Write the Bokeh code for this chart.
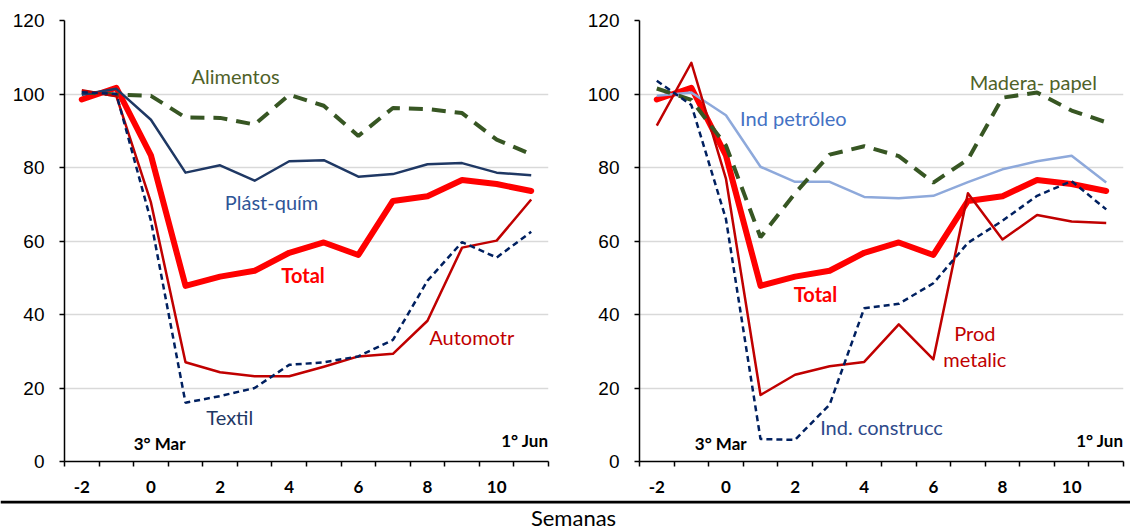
from bokeh.plotting import figure
from bokeh.models import Range1d, FixedTicker, Label, Span
from bokeh.layouts import row, column
from bokeh.embed import file_html
from bokeh.resources import INLINE

# ---------------- data ----------------
weeks = [-2, -1, 0, 1, 2, 3, 4, 5, 6, 7, 8, 9, 10, 11]
x_tick_values = [-2, 0, 2, 4, 6, 8, 10]
x_tick_labels = ["-2", "0", "2", "4", "6", "8", "10"]
y_tick_values = [0, 20, 40, 60, 80, 100, 120]

total = [98.5, 101.7, 83.3, 47.8, 50.3, 51.9, 56.8, 59.6, 56.2, 70.9, 72.2, 76.6, 75.5, 73.6]

# left panel
alimentos = [100.5, 99.8, 99.5, 93.6, 93.5, 91.7, 99.8, 96.8, 88.6, 96.2, 95.9, 94.8, 87.6, 83.6]
plast_quim = [99.8, 101.4, 93.0, 78.6, 80.6, 76.4, 81.7, 82.0, 77.5, 78.2, 80.9, 81.2, 78.6, 77.9]
automotr = [101.0, 99.4, 70.5, 27.0, 24.3, 23.2, 23.2, 25.8, 28.6, 29.3, 38.3, 58.2, 60.1, 71.3]
textil = [100.5, 100.0, 65.5, 16.0, 17.8, 20.0, 26.3, 27.0, 28.6, 33.1, 49.2, 59.7, 55.5, 62.5]

# right panel
petroleo = [99.5, 100.4, 94.2, 80.2, 76.1, 76.1, 72.0, 71.6, 72.3, 76.0, 79.5, 81.7, 83.2, 75.9]
madera = [101.5, 98.4, 86.0, 61.0, 73.0, 83.5, 85.8, 83.1, 75.9, 82.2, 99.0, 100.4, 95.5, 92.3]
prod_metalic = [91.4, 108.5, 77.0, 18.1, 23.6, 25.9, 27.1, 37.3, 27.8, 73.0, 60.4, 67.1, 65.3, 64.9]
construcc = [103.6, 97.0, 66.0, 6.1, 5.9, 15.5, 41.7, 42.9, 48.5, 59.5, 65.5, 72.3, 76.3, 68.6]

minor_ticks = [w - 0.5 for w in weeks] + [weeks[-1] + 0.5]

RED = "#FF0000"
DARKRED = "#C00000"
NAVY = "#002060"
NAVY2 = "#1F3864"
LIGHTBLUE = "#8EA9DB"
GREEN = "#375623"

FONT = "Lato"


def make_panel(width, height, bl, br, bt, bb, mar_x):
    p = figure(width=width, height=height, output_backend="svg", toolbar_location=None,
               x_range=Range1d(-2.5, 11.5), y_range=Range1d(0, 120),
               min_border_left=bl, min_border_right=br, min_border_top=bt, min_border_bottom=bb)
    p.outline_line_color = None
    p.background_fill_color = "white"
    p.border_fill_color = "white"
    p.xgrid.visible = False
    p.ygrid.grid_line_color = "#D9D9D9"
    p.ygrid.grid_line_width = 1.5
    p.ygrid.ticker = FixedTicker(ticks=y_tick_values)

    xa = p.xaxis[0]
    xa.ticker = FixedTicker(ticks=x_tick_values, minor_ticks=minor_ticks)
    xa.major_label_overrides = {v: l for v, l in zip(x_tick_values, x_tick_labels)}
    xa.major_tick_line_color = None
    xa.major_tick_out = 5
    xa.major_tick_in = 0
    xa.minor_tick_line_color = "black"
    xa.minor_tick_line_width = 1.5
    xa.minor_tick_out = 5
    xa.minor_tick_in = 0
    xa.axis_line_color = "black"
    xa.axis_line_width = 1.5
    xa.major_label_text_font = FONT
    xa.major_label_text_font_style = "bold"
    xa.major_label_text_font_size = "17px"
    xa.major_label_text_color = "black"
    xa.major_label_standoff = 14

    ya = p.yaxis[0]
    ya.ticker = FixedTicker(ticks=y_tick_values)
    ya.major_tick_out = 5
    ya.major_tick_in = 0
    ya.major_tick_line_color = "black"
    ya.major_tick_line_width = 1.5
    ya.minor_tick_line_color = None
    ya.axis_line_color = "black"
    ya.axis_line_width = 1.5
    ya.major_label_text_font = "Liberation Sans"
    ya.major_label_text_font_size = "19px"
    ya.major_label_text_color = "black"
    ya.major_label_standoff = 15

    p.add_layout(Label(x=mar_x, y=4.8, text="3° Mar", text_font=FONT, text_font_style="bold",
                       text_font_size="17px", text_color="black", text_align="center",
                       text_baseline="middle"))
    p.add_layout(Label(x=11.5, y=5.7, text="1° Jun", text_font=FONT, text_font_style="bold",
                       text_font_size="17px", text_color="black", text_align="right",
                       text_baseline="middle"))
    return p


def add_label(p, x, y, text, color, bold=False):
    p.add_layout(Label(x=x, y=y, text=text, text_font=FONT, text_font_size="20px",
                       text_font_style="bold" if bold else "normal", text_color=color,
                       text_align="center", text_baseline="middle"))


# ---------------- left panel ----------------
left = make_panel(563, 500, 64, 15, 20, 39, 0.25)
left.line(weeks, total, line_color=RED, line_width=6, line_join="round", line_cap="round")
left.line(weeks, alimentos, line_color=GREEN, line_width=4, line_dash="14 9")
left.line(weeks, plast_quim, line_color=NAVY2, line_width=2.5, line_join="round")
left.line(weeks, automotr, line_color=DARKRED, line_width=2.5, line_join="round")
left.line(weeks, textil, line_color=NAVY, line_width=2.5, line_dash="6 4")

add_label(left, 2.45, 104.9, "Alimentos", "#4F6228")
add_label(left, 3.49, 70.7, "Plást-quím", "#2F5597")
add_label(left, 4.40, 50.8, "Total", RED, bold=True)
add_label(left, 9.28, 33.9, "Automotr", DARKRED)
add_label(left, 2.28, 12.2, "Textil", NAVY2)

# ---------------- right panel ----------------
right = make_panel(567, 500, 76, 7, 17, 39, -0.15)
right.line(weeks, total, line_color=RED, line_width=6, line_join="round", line_cap="round")
right.line(weeks, petroleo, line_color=LIGHTBLUE, line_width=2.5, line_join="round")
right.line(weeks, prod_metalic, line_color=DARKRED, line_width=2.5, line_join="round")
right.line(weeks, madera, line_color=GREEN, line_width=4, line_dash="14 9")
right.line(weeks, construcc, line_color=NAVY, line_width=2.5, line_dash="6 4")

add_label(right, 1.95, 93.6, "Ind petróleo", "#4472C4")
add_label(right, 8.89, 103.4, "Madera- papel", "#4F6228")
add_label(right, 2.59, 45.7, "Total", RED, bold=True)
add_label(right, 7.2, 35.1, "Prod", DARKRED)
add_label(right, 7.2, 27.8, "metalic", DARKRED)
add_label(right, 4.5, 9.4, "Ind. construcc", "#2E4A8B")

# ---------------- bottom strip: separator + axis title ----------------
bottom = figure(width=1130, height=31, output_backend="svg", toolbar_location=None,
                x_range=Range1d(0, 1130), y_range=Range1d(0, 31),
                x_axis_type=None, y_axis_type=None, min_border=0)
bottom.min_border_left = 0
bottom.min_border_right = 0
bottom.min_border_top = 0
bottom.min_border_bottom = 0
bottom.outline_line_color = None
bottom.grid.visible = False
bottom.add_layout(Span(location=29.5, dimension="width", line_color="black", line_width=3))
bottom.add_layout(Label(x=573, y=14, text="Semanas", text_font=FONT, text_font_size="22px",
                        text_color="black", text_align="center", text_baseline="middle"))

layout = column(row(left, right), bottom)

open("out.html", "w").write(file_html(layout, INLINE))
